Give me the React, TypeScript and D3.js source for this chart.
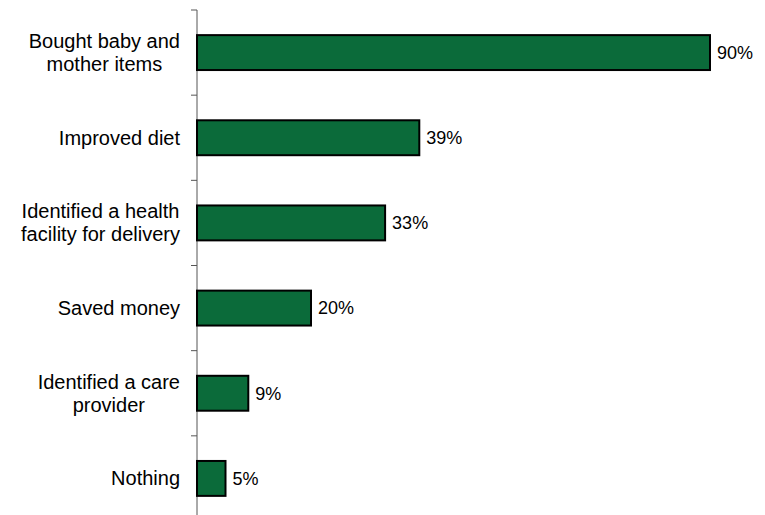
import React from "react";
import * as d3 from "d3";

const categories: string[][] = [
  ["Bought baby and", "mother items"],
  ["Improved diet"],
  ["Identified a health", "facility for delivery"],
  ["Saved money"],
  ["Identified a care", "provider"],
  ["Nothing"],
];
const values: number[] = [90, 39, 33, 20, 9, 5];

const FONT = "Liberation Sans, Arial, sans-serif";
let ctx: CanvasRenderingContext2D | null = null;
function measure(s: string, size: number): number {
  if (!ctx) ctx = document.createElement("canvas").getContext("2d");
  if (!ctx) return s.length * size * 0.5;
  ctx.font = `${size}px ${FONT}`;
  return ctx.measureText(s).width;
}

export default function App() {
  const W = 765, H = 515;
  const x = d3.scaleLinear().domain([0, 100]).range([197, 767]);
  const y = d3.scaleBand<number>().domain(d3.range(values.length)).range([10, 521]).paddingInner(0.59).paddingOuter(0.295);
  const step = y.step();
  const ticks = d3.range(values.length + 1).map((i) => 10 + i * step);
  const lh = 23;
  const right = 180;
  return (
    <svg width={W} height={H} style={{ position: "absolute", left: 0, top: 0 }} fontFamily={FONT}>
      <line x1={197} x2={197} y1={10} y2={H} stroke="#555" strokeWidth={1} />
      {ticks.map((t, i) => (
        <line key={i} x1={191} x2={197} y1={t} y2={t} stroke="#555" strokeWidth={1} />
      ))}
      {values.map((v, i) => {
        const y0 = y(i)!;
        const bh = y.bandwidth();
        const cy = y0 + bh / 2;
        const lines = categories[i];
        const maxW = Math.max(...lines.map((l) => measure(l, 20)));
        const cx = right - maxW / 2;
        return (
          <g key={i}>
            <rect x={x(0)} y={y0} width={x(v) - x(0)} height={bh} fill="#0b6b3a" stroke="#000" strokeWidth={2} />
            <text x={x(v) + 7} y={cy} dy="0.35em" fontSize={18} fill="#000">{v}%</text>
            {lines.map((l, j) => (
              <text key={j} x={cx} y={cy + (j - (lines.length - 1) / 2) * lh} dy="0.35em" textAnchor="middle" fontSize={20} fill="#000">{l}</text>
            ))}
          </g>
        );
      })}
    </svg>
  );
}
